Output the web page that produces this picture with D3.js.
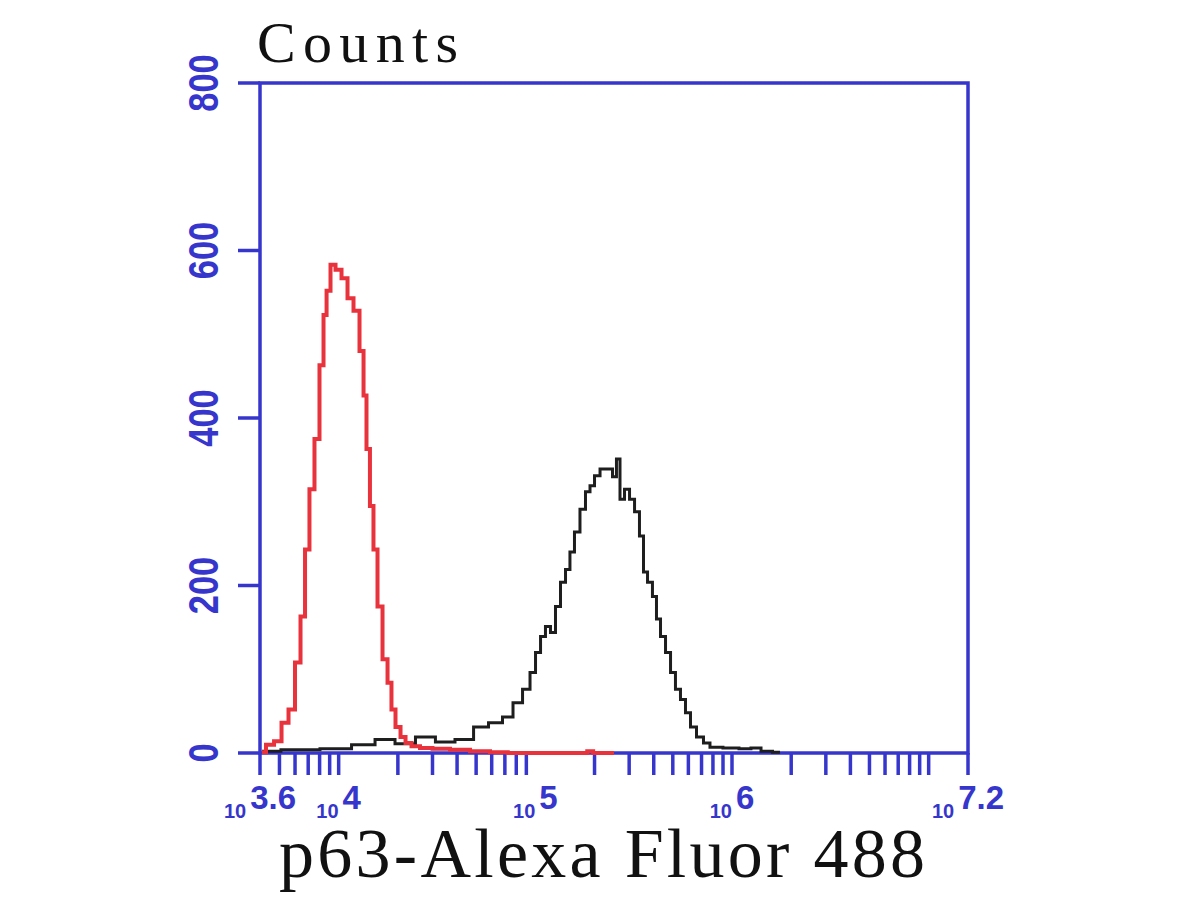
<!DOCTYPE html>
<html lang="en">
<head>
<meta charset="UTF-8">
<title>p63 flow histogram</title>
<style>
  body { margin: 0; background: #fff; }
</style>
</head>
<body>
<script src="https://cdn.jsdelivr.net/npm/d3@7"></script>
<script>
// histogram values (x as log10 of intensity, y as counts)
const redLog = [3.61, 3.651, 3.692, 3.727, 3.763, 3.793, 3.819, 3.839, 3.864, 3.89, 3.915, 3.931, 3.946, 3.971,
    3.997, 4.032, 4.058, 4.093, 4.119, 4.134, 4.149, 4.169, 4.185, 4.21, 4.236, 4.261, 4.276, 4.302, 4.327,
    4.353, 4.388, 4.439, 4.515, 4.617, 4.719, 4.82, 4.9, 5.25, 5.278, 5.31, 5.4];
const redCounts = [1, 10, 14, 36, 52, 108, 163, 243, 315, 375, 463, 523, 552, 583,
    577, 567, 543, 528, 480, 427, 363, 295, 243, 175, 112, 84, 52, 31, 19,
    12, 8, 6, 5, 4, 2, 1, 0, 0, 2, 0, 0];

const blackLog = [3.61, 3.803, 4.007, 4.124, 4.246, 4.327, 4.454, 4.53, 4.653, 4.719, 4.805, 4.861, 4.912,
    4.958, 4.988, 5.014, 5.039, 5.064, 5.09, 5.115, 5.141, 5.166, 5.186, 5.212, 5.242, 5.268, 5.288,
    5.314, 5.344, 5.38, 5.405, 5.42, 5.441, 5.466, 5.492, 5.517, 5.542, 5.558, 5.583, 5.608, 5.624,
    5.649, 5.675, 5.7, 5.725, 5.751, 5.776, 5.802, 5.837, 5.873, 5.903, 6.005, 6.066, 6.127, 6.168, 6.244];
const blackCounts = [2, 4, 5, 10, 16, 11, 19, 13, 16, 31, 36, 43, 60,
    76, 96, 120, 139, 151, 144, 175, 204, 219, 240, 264, 291, 312, 319,
    331, 339, 339, 330, 351, 303, 315, 303, 288, 259, 216, 204, 187, 160,
    139, 120, 96, 76, 64, 48, 31, 19, 12, 7, 6, 5, 6, 2, 1];

const yTicks = [0, 200, 400, 600, 800];
const xLabelExp = ['3.6', '4', '5', '6', '7.2'];
const title = 'Counts';
const xTitle = 'p63-Alexa Fluor 488';

const width = 1200, height = 900;
const plotLeft = 260, plotRight = 968, plotTop = 83, plotBottom = 753;
const blue = '#3636cc';

let svg = d3.select('body')
    .append('svg')
    .attr('width', width)
    .attr('height', height);

let x = d3.scaleLog()
    .domain([Math.pow(10, 3.6), Math.pow(10, 7.2)])
    .range([plotLeft, plotRight]);

let y = d3.scaleLinear()
    .domain([0, 800])
    .range([plotBottom, plotTop]);

// minor/major ticks along the bottom, 1e5 is not drawn in the original
let xTicks = [];
for (let k = 3; k <= 7; ++k) {
    for (let m = 1; m <= 9; ++m) {
        let v = m * Math.pow(10, k);
        if (v > x.domain()[0] * 1.01 && v < x.domain()[1] && v !== 1e5) xTicks.push(v);
    }
}

svg.selectAll('.xtick')
    .data(xTicks)
    .enter()
    .append('line')
    .attr('class', 'xtick')
    .attr('x1', d => x(d)).attr('x2', d => x(d))
    .attr('y1', plotBottom).attr('y2', plotBottom + 22)
    .style('stroke', blue)
    .style('stroke-width', 3.5);

svg.selectAll('.ytick')
    .data(yTicks)
    .enter()
    .append('line')
    .attr('class', 'ytick')
    .attr('x1', plotLeft - 22).attr('x2', plotLeft)
    .attr('y1', d => y(d)).attr('y2', d => y(d))
    .style('stroke', blue)
    .style('stroke-width', 3.5);

// frame
svg.append('rect')
    .attr('x', plotLeft).attr('y', plotTop)
    .attr('width', plotRight - plotLeft).attr('height', plotBottom - plotTop)
    .attr('fill', 'none')
    .style('stroke', blue)
    .style('stroke-width', 3.5);

// domain ends reach down like ticks
svg.selectAll('.endtick')
    .data(x.domain())
    .enter()
    .append('line')
    .attr('x1', d => x(d)).attr('x2', d => x(d))
    .attr('y1', plotBottom).attr('y2', plotBottom + 22)
    .style('stroke', blue)
    .style('stroke-width', 3.5);

// y labels, rotated
svg.selectAll('.ylabel')
    .data(yTicks)
    .enter()
    .append('text')
    .attr('class', 'ylabel')
    .attr('transform', d => `translate(218,${y(d)}) rotate(-90) scale(0.8,1)`)
    .attr('text-anchor', 'middle')
    .style('font-family', 'Liberation Sans, Arial, sans-serif')
    .style('font-weight', 'bold')
    .style('font-size', '43px')
    .style('fill', blue)
    .text(d => d);

// x labels: small "10" then a big exponent
let xl = svg.selectAll('.xlabel')
    .data(xLabelExp)
    .enter()
    .append('text')
    .attr('class', 'xlabel')
    .attr('x', d => x(Math.pow(10, +d)))
    .attr('y', 818)
    .attr('text-anchor', 'middle')
    .style('font-family', 'Liberation Sans, Arial, sans-serif')
    .style('font-weight', 'bold')
    .style('fill', blue);
xl.append('tspan')
    .style('font-size', '20px')
    .text('10');
xl.append('tspan')
    .attr('dy', -9)
    .attr('dx', 4)
    .style('font-size', '33px')
    .text(d => d);

let line = d3.line()
    .x(d => x(Math.pow(10, d[0])))
    .y(d => y(d[1]))
    .curve(d3.curveStep);

svg.append('path')
    .datum(blackLog.map((v, i) => [v, blackCounts[i]]))
    .attr('d', line)
    .attr('fill', 'none')
    .style('stroke', '#1e1e1e')
    .style('stroke-width', 3);

svg.append('path')
    .datum(redLog.map((v, i) => [v, redCounts[i]]))
    .attr('d', line)
    .attr('fill', 'none')
    .style('stroke', '#e8323c')
    .style('stroke-width', 4);

svg.append('text')
    .attr('x', 257).attr('y', 62)
    .attr('textLength', 201)
    .attr('lengthAdjust', 'spacing')
    .style('font-family', 'Liberation Serif, Times New Roman, serif')
    .style('font-size', '58px')
    .style('fill', '#111')
    .text(title);

svg.append('text')
    .attr('x', 279).attr('y', 877)
    .attr('textLength', 646)
    .attr('lengthAdjust', 'spacing')
    .style('font-family', 'Liberation Serif, Times New Roman, serif')
    .style('font-size', '70px')
    .style('fill', '#111')
    .text(xTitle);
</script>
</body>
</html>
